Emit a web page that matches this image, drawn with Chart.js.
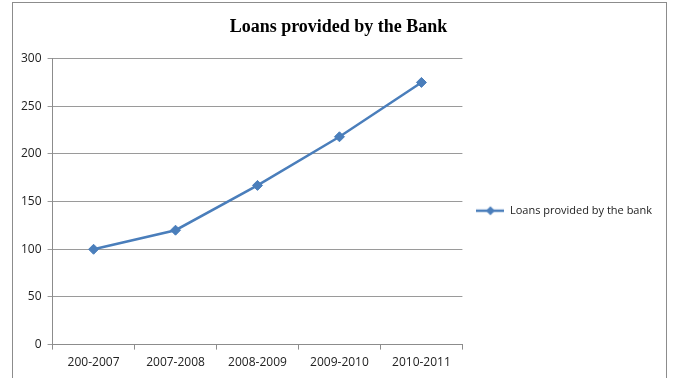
<!DOCTYPE html>
<html>
<head>
<meta charset="utf-8">
<script src="https://cdn.jsdelivr.net/npm/chart.js@4.4.1/dist/chart.umd.min.js"></script>
<style>
  html, body { margin: 0; padding: 0; background: #fff; }
  #wrap { position: relative; width: 674px; height: 378px; overflow: hidden; }
  #frame { position: absolute; left: 12px; top: 2px; width: 653px; height: 400px; border: 1px solid #8c8c8c; }
  canvas { position: absolute; left: 0; top: 0; }
</style>
</head>
<body>
<div id="wrap">
  <div id="frame"></div>
  <canvas id="loansChart" width="674" height="378"></canvas>
</div>
<script>
const periods = ["200-2007", "2007-2008", "2008-2009", "2009-2010", "2010-2011"];
const loanValues = [100, 120, 167, 218, 275];
const seriesName = "Loans provided by the bank";
const chartTitle = "Loans provided by the Bank";

const lineColor = "#4a7ebb";
const labelFont = "'Open Sans', sans-serif";
const titleFont = "'Liberation Serif', 'Times New Roman', serif";

// legend symbol: short line with a diamond in the middle
const legendIcon = document.createElement("canvas");
legendIcon.width = 28;
legendIcon.height = 12;
const ic = legendIcon.getContext("2d");
ic.strokeStyle = lineColor;
ic.lineWidth = 2.5;
ic.beginPath();
ic.moveTo(0, 6);
ic.lineTo(28, 6);
ic.stroke();
ic.fillStyle = lineColor;
ic.beginPath();
ic.moveTo(14, 1.5);
ic.lineTo(18.5, 6);
ic.lineTo(14, 10.5);
ic.lineTo(9.5, 6);
ic.closePath();
ic.fill();

function drawChart() {
    const ctx = document.getElementById("loansChart");
    new Chart(ctx, {
        type: "line",
        data: {
            labels: periods,
            datasets: [{
                label: seriesName,
                data: loanValues,
                borderColor: lineColor,
                backgroundColor: lineColor,
                borderWidth: 2.5,
                pointStyle: "rectRot",
                pointRadius: 5,
                pointBorderWidth: 1,
                tension: 0
            }]
        },
        options: {
            responsive: false,
            animation: false,
            layout: {
                padding: { left: 15, right: 12, top: 5, bottom: 2 }
            },
            plugins: {
                title: {
                    display: true,
                    text: chartTitle,
                    color: "#000",
                    font: { family: titleFont, size: 18, weight: "bold" },
                    padding: { top: 12, bottom: 20 }
                },
                legend: {
                    position: "right",
                    maxWidth: 260,
                    title: {
                        display: true,
                        text: " ",
                        padding: { top: 26, bottom: 0 }
                    },
                    labels: {
                        usePointStyle: true,
                        pointStyle: legendIcon,
                        pointStyleWidth: 28,
                        boxHeight: 12,
                        color: "#222",
                        padding: 14,
                        font: { family: labelFont, size: 11 }
                    }
                },
                tooltip: { enabled: false }
            },
            scales: {
                x: {
                    offset: true,
                    border: { color: "#8c8c8c", width: 1 },
                    grid: {
                        offset: true,
                        drawOnChartArea: false,
                        drawTicks: true,
                        tickLength: 5,
                        color: "#8c8c8c"
                    },
                    ticks: {
                        color: "#222",
                        padding: 6,
                        maxRotation: 0,
                        font: { family: labelFont, size: 12 }
                    }
                },
                y: {
                    min: 0,
                    max: 300,
                    border: { color: "#8c8c8c", width: 1 },
                    grid: {
                        color: "#9a9a9a",
                        tickLength: 5
                    },
                    ticks: {
                        stepSize: 50,
                        color: "#222",
                        padding: 6,
                        font: { family: labelFont, size: 12 }
                    }
                }
            }
        }
    });
}

Promise.all([
    document.fonts.load("12px 'Open Sans'"),
    document.fonts.load("bold 18px 'Liberation Serif'")
]).then(drawChart, drawChart);
</script>
</body>
</html>
